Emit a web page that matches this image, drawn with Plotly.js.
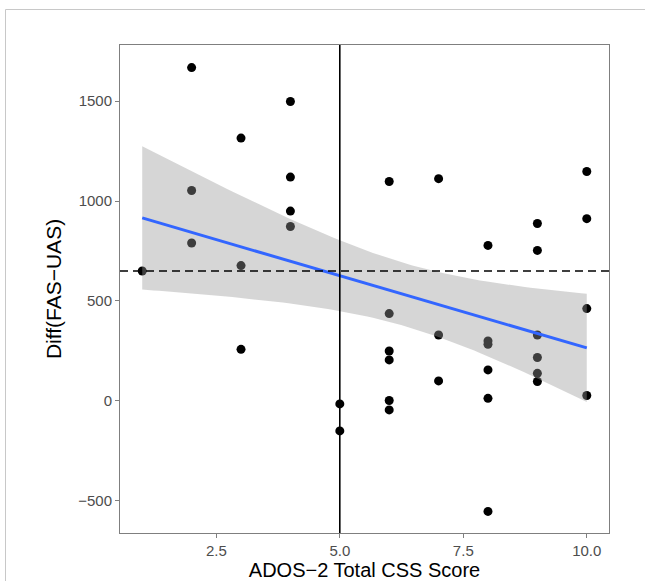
<!DOCTYPE html>
<html>
<head>
<meta charset="utf-8">
<script src="https://cdn.plot.ly/plotly-3.0.1.min.js"></script>
<style>html,body{margin:0;padding:0;background:#fff;}</style>
</head>
<body>
<div id="chart" style="width:645px;height:581px;"></div>
<script>
// ADOS-2 Total CSS Score (x) and Diff(FAS-UAS) (y)
const cssScore = [1,2,2,2,3,3,3,4,4,4,4,5,5,6,6,6,6,6,6,7,7,7,8,8,8,8,8,8,9,9,9,9,9,9,10,10,10,10];
const diffFasUas = [650,1668,1053,790,1315,677,258,1498,1120,950,873,-15,-150,1098,437,250,205,2,-45,1112,330,100,778,300,283,155,13,-553,888,753,330,217,138,97,1148,912,462,27];
const xTickVals = [2.5, 5, 7.5, 10];
const xTickText = ['2.5', '5.0', '7.5', '10.0'];
const yTickVals = [-500, 0, 500, 1000, 1500];
const yTickText = ['\u2212500', '0', '500', '1000', '1500'];
const refX = 5;      // vertical reference line
const refY = 650;    // horizontal dashed reference line

// linear model fit with 95% confidence band (like geom_smooth(method = "lm"))
const n = cssScore.length;
const mx = cssScore.reduce((a, b) => a + b, 0) / n;
const my = diffFasUas.reduce((a, b) => a + b, 0) / n;
let sxx = 0, sxy = 0;
for (let i = 0; i < n; i++) { sxx += (cssScore[i] - mx) ** 2; sxy += (cssScore[i] - mx) * (diffFasUas[i] - my); }
const slope = sxy / sxx, icpt = my - slope * mx;
let sse = 0;
for (let i = 0; i < n; i++) { sse += (diffFasUas[i] - icpt - slope * cssScore[i]) ** 2; }
const s = Math.sqrt(sse / (n - 2));
const tq = 2.028; // t(0.975, df = 36)
const xmin = Math.min(...cssScore), xmax = Math.max(...cssScore);
const gx = [], gy = [], up = [], lo = [];
for (let k = 0; k < 80; k++) {
  const x = xmin + (xmax - xmin) * k / 79;
  const yh = icpt + slope * x;
  const se = s * Math.sqrt(1 / n + (x - mx) ** 2 / sxx);
  gx.push(x); gy.push(yh); up.push(yh + tq * se); lo.push(yh - tq * se);
}
const bandX = gx.concat(gx.slice().reverse());
const bandY = up.concat(lo.slice().reverse());

const traces = [
  { x: cssScore, y: diffFasUas, type: 'scatter', mode: 'markers',
    marker: { color: '#000', size: 9 }, hoverinfo: 'x+y' },
  { x: bandX, y: bandY, type: 'scatter', mode: 'lines', fill: 'toself',
    fillcolor: 'rgba(153,153,153,0.4)', line: { width: 0, color: 'rgba(0,0,0,0)' }, hoverinfo: 'skip' },
  { x: gx, y: gy, type: 'scatter', mode: 'lines',
    line: { color: '#3366FF', width: 3 }, hoverinfo: 'skip' }
];

const L = 120, R = 36, T = 45, B = 48, W = 645, H = 581;
const pw = W - L - R, ph = H - T - B;
const FONT = 'Liberation Sans, Arial, sans-serif';
const axisCommon = {
  showgrid: false, zeroline: false, showline: true, mirror: true,
  linecolor: '#7f7f7f', linewidth: 1, ticks: 'outside', ticklen: 4, tickwidth: 1,
  tickcolor: '#7f7f7f', tickfont: { family: FONT, size: 15, color: '#4d4d4d' }
};
const layout = {
  width: W, height: H, showlegend: false,
  margin: { l: L, r: R, t: T, b: B },
  paper_bgcolor: '#fff', plot_bgcolor: '#fff',
  xaxis: Object.assign({}, axisCommon, {
    range: [0.55, 10.45], tickvals: xTickVals, ticktext: xTickText,
    title: { text: 'ADOS\u22122 Total CSS Score', standoff: 6,
      font: { family: FONT, size: 20, color: '#000' } }
  }),
  yaxis: Object.assign({}, axisCommon, {
    range: [-661, 1781], tickvals: yTickVals, ticktext: yTickText,
    title: { text: 'Diff(FAS\u2212UAS)', standoff: 10,
      font: { family: FONT, size: 21, color: '#000' } }
  }),
  shapes: [
    { type: 'line', xref: 'x', yref: 'paper', x0: refX, x1: refX, y0: 0, y1: 1,
      line: { color: '#000', width: 1.6 }, layer: 'above' },
    { type: 'line', xref: 'paper', yref: 'y', x0: 0, x1: 1, y0: refY, y1: refY,
      line: { color: '#000', width: 1.6, dash: '8px,5px' }, layer: 'above' },
    { type: 'rect', xref: 'paper', yref: 'paper',
      x0: (5.5 - L) / pw, x1: (700 - L) / pw, y0: (H - B - 700) / ph, y1: (H - B - 9.5) / ph,
      line: { color: '#c8c8c8', width: 1 }, fillcolor: 'rgba(0,0,0,0)', layer: 'above' }
  ]
};
Plotly.newPlot('chart', traces, layout, { displayModeBar: false, staticPlot: true });
</script>
</body>
</html>
